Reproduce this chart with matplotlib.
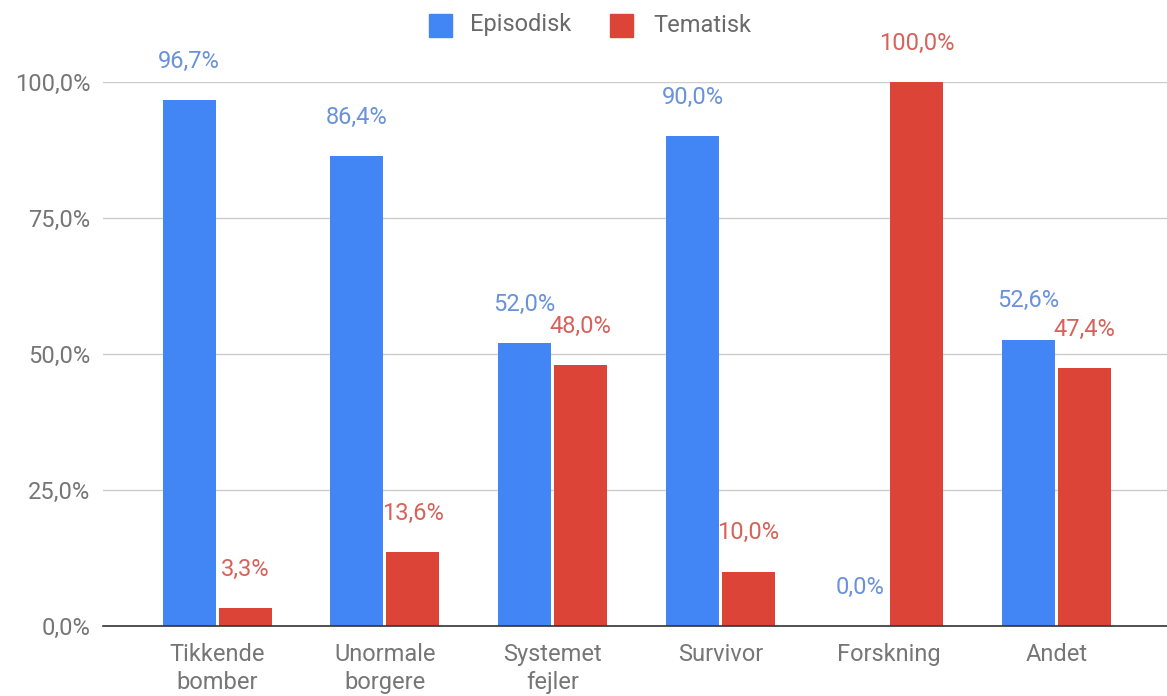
import numpy as np
import matplotlib
matplotlib.use("Agg")
import matplotlib.pyplot as plt
from matplotlib.patches import Rectangle

# Data
categories = ["Tikkende\nbomber", "Unormale\nborgere", "Systemet\nfejler",
              "Survivor", "Forskning", "Andet"]
episodisk = [96.7, 86.4, 52.0, 90.0, 0.0, 52.6]
tematisk = [3.3, 13.6, 48.0, 10.0, 100.0, 47.4]
series_names = ["Episodisk", "Tematisk"]
y_ticks = [0, 25, 50, 75, 100]

BLUE = "#4285F4"
RED = "#DB4437"
BLUE_TXT = "#6a92dc"
RED_TXT = "#d6625a"
GREY = "#767676"
FS = 17

plt.rcParams['font.family'] = ['Roboto', 'DejaVu Sans']


def pct(v):
    return f"{v:.1f}".replace(".", ",") + "%"


W, H = 1167, 696
fig = plt.figure(figsize=(W / 100, H / 100), dpi=100)
ax = fig.add_axes([103 / W, 1 - 626 / H, 1 - 103 / W, (626 - 82) / H])

x = np.arange(len(categories))
w = 0.316
off = 0.167

bars_e = ax.bar(x - off, episodisk, width=w, color=BLUE, zorder=3)
bars_t = ax.bar(x + off, tematisk, width=w, color=RED, zorder=3)

# etiquettes au-dessus des barres
for bars, vals, col in [(bars_e, episodisk, BLUE_TXT), (bars_t, tematisk, RED_TXT)]:
    for b, v in zip(bars, vals):
        ax.annotate(pct(v), (b.get_x() + b.get_width() / 2, v),
                    xytext=(0, 28), textcoords="offset points",
                    ha="center", va="center", fontsize=FS, color=col,
                    annotation_clip=False)

ax.set_xlim(-0.68, 5.66)
ax.set_ylim(0, 100)
ax.set_yticks(y_ticks)
ax.set_yticklabels([pct(v) for v in y_ticks])
ax.set_xticks(x)
ax.set_xticklabels(categories, linespacing=1.28)

ax.tick_params(axis="both", length=0, labelsize=FS, labelcolor=GREY)
ax.tick_params(axis="y", pad=9)
ax.tick_params(axis="x", pad=12)

ax.grid(axis="y", color="#cccccc", linewidth=1, zorder=0)
for s in ["top", "right", "left"]:
    ax.spines[s].set_visible(False)
ax.spines["bottom"].set_color("#333333")
ax.spines["bottom"].set_linewidth(1.2)
ax.spines["bottom"].set_zorder(4)

# légende en haut
sq = 23
for (sx, tx), col, name in zip([(429, 470), (610, 653)], [BLUE, RED], series_names):
    fig.patches.append(Rectangle((sx / W, 1 - (25 + sq / 2) / H), sq / W, sq / H,
                                 transform=fig.transFigure, color=col))
    fig.text(tx / W, 1 - 25 / H, name, ha="left", va="center",
             fontsize=FS, color="#6a6a6a")

fig.savefig("out.png", dpi=100)
